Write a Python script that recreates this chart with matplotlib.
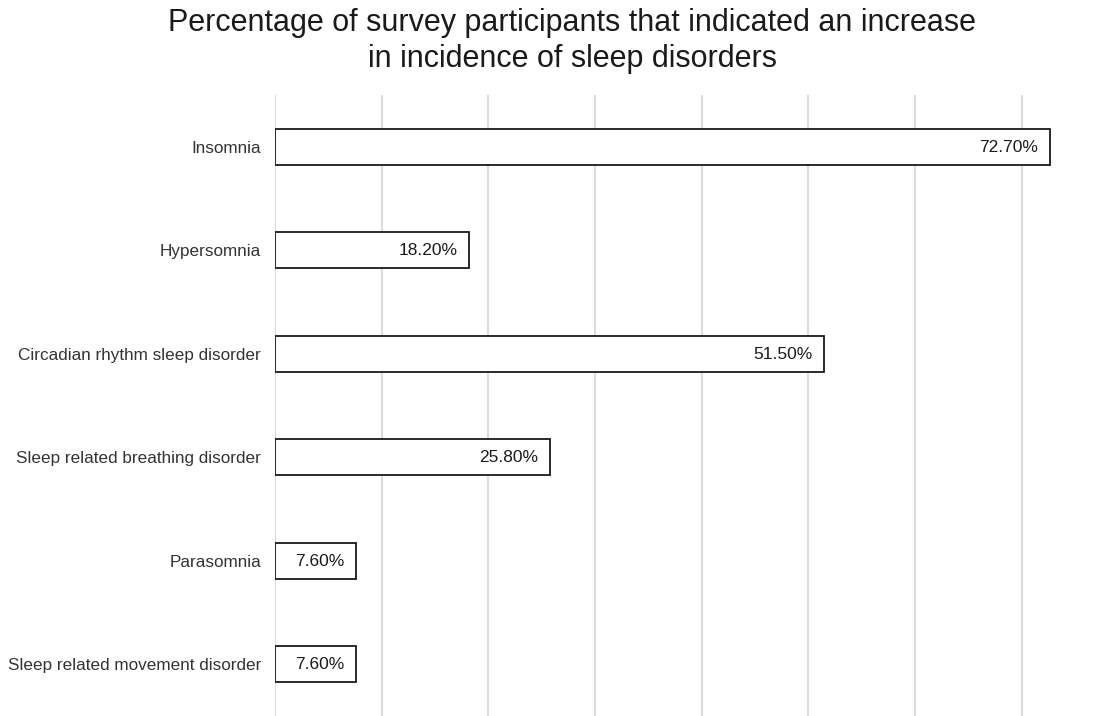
import matplotlib.pyplot as plt

# data
disorders = [
    "Insomnia",
    "Hypersomnia",
    "Circadian rhythm sleep disorder",
    "Sleep related breathing disorder",
    "Parasomnia",
    "Sleep related movement disorder",
]
percent = [72.7, 18.2, 51.5, 25.8, 7.6, 7.6]

plt.rcParams['font.family'] = ['Liberation Sans', 'DejaVu Sans']

fig = plt.figure(figsize=(11.2, 7.16), dpi=100)
ax = fig.add_axes([275 / 1120, 0, (1060 - 275) / 1120, (716 - 95) / 716])

y = range(len(disorders))
ax.barh(y, percent, height=0.35, color="white", edgecolor="#1a1a1a", linewidth=1.3, zorder=2)

# value labels inside the bars
for i, v in enumerate(percent):
    ax.annotate(f"{v:.2f}%", (v, i), xytext=(-8.6, -0.5), textcoords="offset points",
                ha="right", va="center", fontsize=12.5, color="#1a1a1a", zorder=3)

ax.set_xlim(0, 73.6)
ax.set_ylim(len(disorders) - 0.5, -0.5)
ax.set_xticks(range(0, 71, 10))
ax.set_xticklabels([])
ax.set_yticks(list(y))
ax.set_yticklabels(disorders, fontsize=12.3, color="#333333")
ax.tick_params(length=0, pad=10)
ax.grid(axis="x", color="#dcdcdc", linewidth=1.5, zorder=0)
ax.set_axisbelow(True)
for s in ax.spines.values():
    s.set_visible(False)

fig.text(572 / 1120, 1 - 41 / 716,
         "Percentage of survey participants that indicated an increase\nin incidence of sleep disorders",
         ha="center", va="center", fontsize=22, color="#1a1a1a", linespacing=1.25)

fig.savefig("out.png", dpi=100)
